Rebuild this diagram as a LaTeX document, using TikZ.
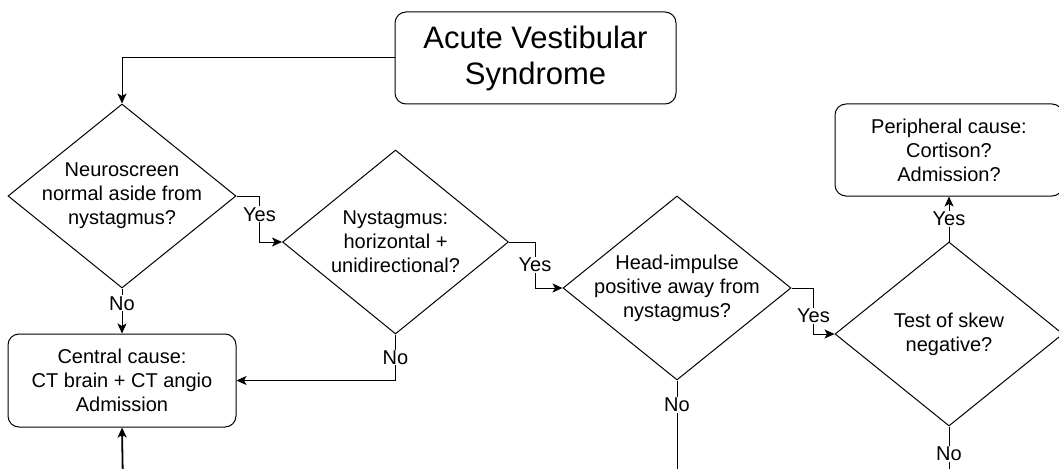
\documentclass[tikz,border=0pt]{standalone}
\usepackage{fontspec}
\setmainfont{Liberation Sans}
\usetikzlibrary{shapes.geometric,arrows.meta}
\begin{document}
\begin{tikzpicture}[x=1pt,y=-1pt]
\tikzstyle{every node}=[font=\fontsize{20}{24}\selectfont,align=center]
\tikzstyle{box}=[draw,line width=1pt,rounded corners=11pt,minimum width=228pt,
minimum height=92pt,inner sep=0pt]
\tikzstyle{decision}=[draw,line width=1pt,diamond,minimum width=228pt,
minimum height=184pt,inner sep=-25pt]
\tikzstyle{line}=[draw,line width=1pt,-{Stealth[length=10pt,width=9pt,inset=2.5pt]}]
\tikzstyle{lbl}=[fill=white,inner sep=1pt]

\useasboundingbox (0,0) rectangle (1059,468);
\fill[white] (0,0) rectangle (1059,468);
\clip (0,0) rectangle (1059,468);

\draw (535.5,58) node (start) [box,minimum width=281pt,
font=\fontsize{31}{36}\selectfont] {Acute Vestibular\\Syndrome};
\draw (122,196) node (q1) [decision] {Neuroscreen\\normal aside from\\nystagmus?};
\draw (395.5,242) node (q2) [decision,minimum width=226pt] {Nystagmus:\\horizontal +\\unidirectional?};
\draw (677,288) node (q3) [decision] {Head-impulse\\positive away from\\nystagmus?};
\draw (949,334) node (q4) [decision] {Test of skew\\negative?};
\draw (122,380.5) node (central) [box,minimum height=93pt] {Central cause:\\CT brain + CT angio\\Admission};
\draw (949,150) node (peripheral) [box] {Peripheral cause:\\Cortison?\\Admission?};
\coordinate (back) at (123,490);
\coordinate (q3out) at (677,490);
\coordinate (q4out) at (949,490);

\draw [line] (start.west) -| (q1.north);
\draw [line] (q1.east) -- ++(23,0) |- node[lbl,pos=0.2] {Yes} (q2.west);
\draw [line] (q2.east) -- ++(26,0) |- node[lbl,pos=0.25] {Yes} (q3.west);
\draw [line] (q3.east) -- ++(22,0) |- node[lbl,pos=0.3] {Yes} (q4.west);
\draw [line] (q4.north) -- node[lbl] {Yes} (peripheral.south);
\draw [line] (q1.south) -- node[lbl,pos=0.33] {No} (central.north);
\draw [line] (q2.south) |- node[lbl,pos=0.25] {No} (central.east);
\draw [line,-] (q3.south) -- node[lbl,pos=0.22] {No} (q3out);
\draw [line,-] (q4.south) -- node[lbl,pos=0.43] {No} (q4out);
\draw [line,line width=1.8pt] (back) -- (central.south);
\end{tikzpicture}
\end{document}
